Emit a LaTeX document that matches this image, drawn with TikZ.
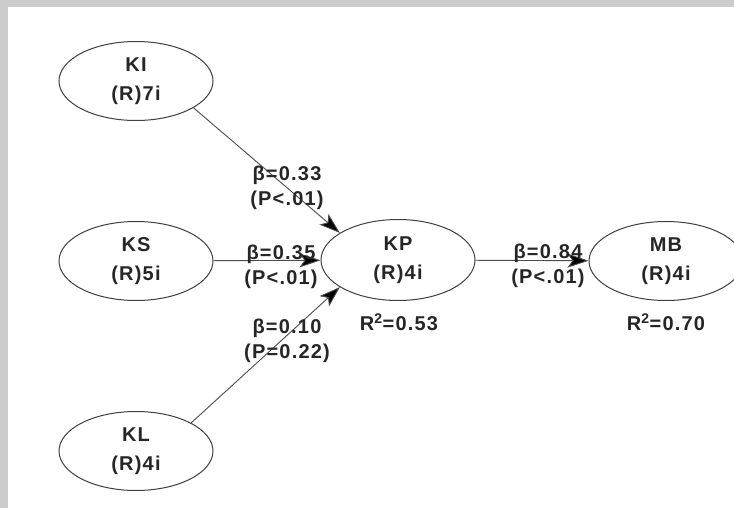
\documentclass[tikz,border=0pt]{standalone}
\usepackage{fontspec}
\setmainfont{Liberation Sans}
\newfontfamily\diagfont[LetterSpace=6]{Liberation Sans}
\usetikzlibrary{arrows.meta,shapes.geometric}
\begin{document}
\begin{tikzpicture}[x=1pt,y=-1pt,
  lv/.style={ellipse, draw=black!75, line width=1pt, minimum width=154pt, minimum height=79pt,
    inner sep=0pt, align=center, font=\diagfont\fontsize{20}{29}\selectfont\bfseries, text=black!85},
  conn/.style={draw=black!70, line width=0.9pt, -{Stealth[length=21pt,width=14pt,inset=5pt,fill=black]}},
  lbl/.style={align=center, font=\diagfont\fontsize{20}{25}\selectfont\bfseries, text=black!85, inner sep=0pt}]
\useasboundingbox (0,0) rectangle (734,508);
\fill[white] (0,0) rectangle (734,508);
\fill[black!20] (0,0) rectangle (734,7);
\fill[black!20] (0,0) rectangle (8,508);
\node[lv] (KI) at (136,81) {KI\\(R)7i};
\node[lv] (KS) at (136,261) {KS\\(R)5i};
\node[lv] (KL) at (136,451) {KL\\(R)4i};
\node[lv, minimum height=81pt] (KP) at (398,260) {KP\\(R)4i};
\node[lv] (MB) at (666,261) {MB\\(R)4i};
\draw[conn] (KI.-25) -- (KP.155);
\draw[conn] (KS) -- (KP);
\draw[conn] (KL.27) -- (KP.205);
\draw[conn] (KP) -- (MB);
\node[lbl] (l1) at (287,188) {β=0.33\\(P<.01)};
\node[lbl] (l2) at (281,267) {β=0.35\\(P<.01)};
\node[lbl] (l3) at (287,341) {β=0.10\\(P=0.22)};
\node[lbl] (l4) at (548,266) {β=0.84\\(P<.01)};
\node[lbl] (r1) at (399,322) {R\textsuperscript{2}=0.53};
\node[lbl] (r2) at (666,322) {R\textsuperscript{2}=0.70};
\end{tikzpicture}
\end{document}
